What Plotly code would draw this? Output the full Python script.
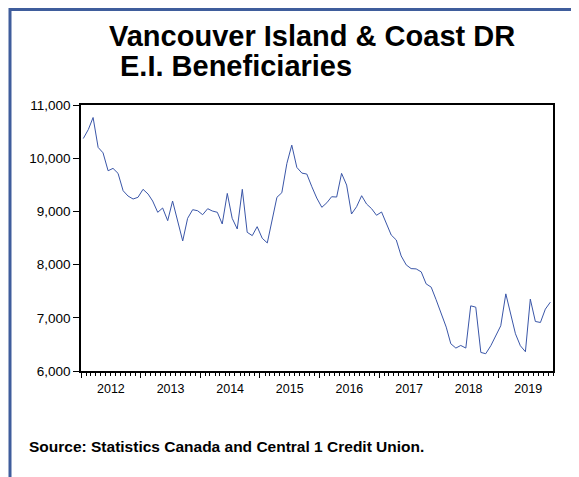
import plotly.graph_objects as go
import pandas as pd

# Monthly E.I. beneficiaries, Vancouver Island & Coast DR, Jan 2012 - Nov 2019
start_month = "2012-01-01"
beneficiaries = [
    10370, 10540, 10765, 10203, 10101, 9764, 9809, 9715, 9389, 9289, 9233, 9265,   # 2012
    9415, 9326, 9195, 8983, 9064, 8826, 9195, 8840, 8445, 8870, 9032, 9013,        # 2013
    8938, 9051, 9008, 8983, 8764, 9338, 8870, 8670, 9415, 8607, 8545, 8713,        # 2014
    8495, 8407, 8835, 9265, 9351, 9902, 10246, 9827, 9720, 9702, 9463, 9251,       # 2015
    9077, 9163, 9276, 9270, 9715, 9495, 8951, 9088, 9295, 9139, 9051, 8927,        # 2016
    8989, 8777, 8557, 8463, 8163, 7994, 7925, 7919, 7863, 7638, 7576, 7340,        # 2017
    7100, 6825, 6512, 6431, 6480, 6431, 7225, 7200, 6349, 6325, 6475, 6662,        # 2018
    6850, 7450, 7088, 6700, 6475, 6362, 7351, 6931, 6912, 7163, 7295,              # 2019
]
y_ticks = [6000, 7000, 8000, 9000, 10000, 11000]
title_lines = ["Vancouver Island & Coast DR", "E.I. Beneficiaries"]
source_text = "Source: Statistics Canada and Central 1 Credit Union."

months = pd.date_range(start_month, periods=len(beneficiaries), freq="MS")
x_mid = months + pd.Timedelta(days=14)
x_end = months[-1] + pd.offsets.MonthBegin(1)

FONT = "Liberation Sans, Arial, sans-serif"

# plot-area geometry in figure pixels
L, T, W, H = 73, 97, 472, 266
FIG_W, FIG_H = 579, 477


def px(x):
    return (x - L) / W


def py(y):
    return 1 - (y - T) / H


fig = go.Figure()
fig.add_trace(go.Scatter(
    x=x_mid, y=beneficiaries, mode="lines",
    line=dict(color="#3a56a8", width=1),
    hoverinfo="skip", showlegend=False,
))

fig.update_layout(
    width=FIG_W, height=FIG_H,
    margin=dict(l=L, r=FIG_W - L - W, t=T, b=FIG_H - T - H),
    paper_bgcolor="white", plot_bgcolor="white",
    font=dict(family=FONT, color="black"),
    showlegend=False,
)

fig.update_xaxes(
    type="date",
    range=[months[0], x_end],
    tick0="2012-01-01", dtick="M12", tickformat="%Y",
    ticklabelmode="period",
    ticks="outside", ticklen=5, tickwidth=1, tickcolor="black",
    minor=dict(dtick="M1", ticks="outside", ticklen=3, tickwidth=1, tickcolor="black", showgrid=False),
    showgrid=False, zeroline=False,
    showline=True, linecolor="black", linewidth=1.5, mirror=True,
    tickfont=dict(size=12.5, family=FONT, color="black"),
)
fig.update_yaxes(
    range=[6000, 11000],
    tickvals=y_ticks, tickformat=",d",
    ticks="outside", ticklen=6, tickwidth=1, tickcolor="black",
    showgrid=False, zeroline=False,
    showline=True, linecolor="black", linewidth=1.5, mirror=True,
    tickfont=dict(size=13.5, family=FONT, color="black"),
)

# Titles
fig.add_annotation(text="<b>" + title_lines[0] + "</b>", xref="paper", yref="paper",
                   x=px(99), xanchor="left", y=py(28), yanchor="middle",
                   showarrow=False, font=dict(size=29, family=FONT, color="black"))
fig.add_annotation(text="<b>" + title_lines[1] + "</b>", xref="paper", yref="paper",
                   x=px(110), xanchor="left", y=py(58), yanchor="middle",
                   showarrow=False, font=dict(size=29, family=FONT, color="black"))
fig.add_annotation(text="<b>" + source_text + "</b>", xref="paper", yref="paper",
                   x=px(19), xanchor="left", y=py(438), yanchor="middle",
                   showarrow=False, font=dict(size=15.5, family=FONT, color="black"))

# Blue page border (top and left)
BORDER = "#3f5d9c"
fig.add_shape(type="line", xref="paper", yref="paper",
              x0=px(1), x1=px(FIG_W), y0=py(1.5), y1=py(1.5),
              line=dict(color=BORDER, width=3))
fig.add_shape(type="line", xref="paper", yref="paper",
              x0=px(2), x1=px(2), y0=py(FIG_H), y1=py(0),
              line=dict(color=BORDER, width=3))

fig.write_html("out.html")
